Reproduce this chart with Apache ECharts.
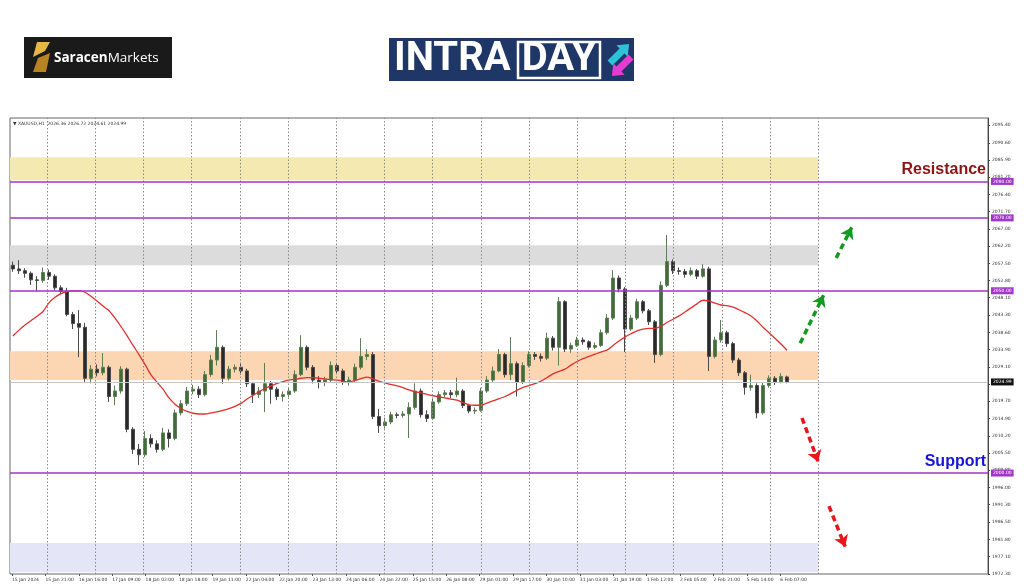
<!DOCTYPE html>
<html><head><meta charset="utf-8">
<script src="https://cdn.jsdelivr.net/npm/echarts@6/dist/echarts.min.js"></script>
<style>html,body{margin:0;padding:0;background:#fff}#c{width:1024px;height:587px}</style>
</head><body><div id="c"></div>
<script>
// ---------------- DATA ----------------
const symbolInfo = '\u25BC XAUUSD,H1  2026.36 2026.72 2024.61 2024.99';
const timeLabels = ["15 Jan 2024","15 Jan 21:00","16 Jan 16:00","17 Jan 09:00","18 Jan 02:00","18 Jan 18:00","19 Jan 11:00","22 Jan 04:00","22 Jan 20:00","23 Jan 13:00","24 Jan 06:00","24 Jan 22:00","25 Jan 15:00","26 Jan 08:00","29 Jan 01:00","29 Jan 17:00","30 Jan 10:00","31 Jan 03:00","31 Jan 19:00","1 Feb 12:00","2 Feb 05:00","2 Feb 21:00","5 Feb 14:00","6 Feb 07:00"];
const priceTicks = [2095.40,2090.60,2085.90,2081.20,2076.40,2071.70,2067.00,2062.20,2057.50,2052.80,2048.10,2043.30,2038.60,2033.90,2029.10,2024.40,2019.70,2014.90,2010.20,2005.50,2000.80,1996.00,1991.30,1986.50,1981.80,1977.10,1972.30];
// [open, close, low, high]
const candles = [
[2057.0,2056.0,2055.2,2058.0],[2056.0,2055.5,2054.6,2058.4],[2055.5,2054.8,2053.6,2056.2],[2054.8,2053.0,2051.6,2055.3],[2053.0,2052.8,2049.8,2054.0],
[2052.8,2055.0,2052.2,2056.4],[2055.0,2054.0,2053.0,2055.8],[2054.0,2050.8,2050.0,2054.5],[2050.8,2049.8,2049.0,2051.5],[2049.8,2043.5,2043.0,2050.8],
[2043.5,2041.0,2039.5,2044.2],[2041.0,2040.0,2031.8,2044.7],[2040.0,2026.0,2025.0,2041.2],[2026.0,2028.5,2024.6,2029.6],[2028.5,2027.5,2026.5,2029.8],
[2027.5,2029.0,2026.8,2032.9],[2029.0,2021.0,2019.5,2029.5],[2021.0,2022.5,2018.6,2024.0],[2022.5,2028.5,2021.8,2029.3],[2028.5,2012.0,2011.2,2028.9],
[2012.0,2006.5,2005.2,2012.6],[2006.5,2005.0,2002.2,2008.0],[2005.0,2009.5,2004.4,2011.5],[2009.5,2008.0,2007.0,2010.6],[2008.0,2006.5,2005.6,2009.0],
[2006.5,2011.0,2006.0,2012.4],[2011.0,2009.5,2007.0,2012.0],[2009.5,2016.5,2009.0,2017.4],[2016.5,2019.0,2015.8,2020.0],[2019.0,2022.5,2018.4,2023.6],
[2022.5,2023.0,2021.6,2024.2],[2023.0,2021.5,2020.6,2023.8],[2021.5,2027.0,2021.0,2028.0],[2027.0,2031.0,2026.4,2032.4],[2031.0,2034.5,2029.5,2039.2],
[2034.5,2026.0,2024.5,2035.0],[2026.0,2028.5,2025.4,2029.4],[2028.5,2029.0,2027.6,2029.8],[2029.0,2028.0,2027.0,2030.2],[2028.0,2024.5,2023.6,2028.6],
[2024.5,2021.5,2019.2,2025.0],[2021.5,2022.5,2020.6,2023.6],[2022.5,2024.5,2016.7,2030.2],[2024.5,2023.0,2019.0,2025.2],[2023.0,2021.0,2020.0,2023.6],
[2021.0,2021.5,2019.6,2022.4],[2021.5,2022.5,2020.8,2023.4],[2022.5,2027.0,2022.0,2028.2],[2027.0,2034.5,2026.6,2037.8],[2034.5,2029.0,2028.2,2035.0],
[2029.0,2025.5,2024.6,2029.6],[2025.5,2025.0,2023.2,2026.6],[2025.0,2025.5,2023.8,2026.4],[2025.5,2029.5,2025.0,2030.6],[2029.5,2028.0,2027.2,2030.2],
[2028.0,2025.0,2024.2,2028.6],[2025.0,2025.5,2024.0,2026.4],[2025.5,2029.0,2025.0,2030.0],[2029.0,2032.0,2028.4,2037.0],[2032.0,2032.5,2031.0,2034.0],
[2032.5,2015.5,2014.8,2033.2],[2015.5,2013.0,2011.0,2017.6],[2013.0,2014.0,2012.2,2015.2],[2014.0,2016.0,2013.4,2016.8],[2016.0,2015.8,2015.0,2016.6],
[2015.8,2016.2,2015.2,2017.0],[2016.2,2018.0,2009.6,2019.4],[2018.0,2022.5,2017.4,2024.6],[2022.5,2016.0,2015.2,2023.2],[2016.0,2015.0,2014.0,2017.2],
[2015.0,2019.5,2014.6,2020.6],[2019.5,2021.5,2019.0,2022.4],[2021.5,2022.0,2020.8,2022.8],[2022.0,2021.5,2020.6,2022.8],[2021.5,2022.5,2020.8,2026.2],
[2022.5,2018.5,2017.8,2023.0],[2018.5,2017.0,2016.4,2019.0],[2017.0,2017.2,2016.2,2018.0],[2017.2,2022.5,2016.8,2023.4],[2022.5,2025.5,2022.0,2026.6],
[2025.5,2028.0,2025.0,2029.2],[2028.0,2032.5,2027.6,2034.0],[2032.5,2027.0,2026.2,2033.0],[2027.0,2030.0,2025.5,2037.3],[2030.0,2025.0,2021.0,2030.6],
[2025.0,2029.5,2024.4,2030.4],[2029.5,2032.5,2029.0,2033.4],[2032.5,2032.0,2031.0,2033.2],[2032.0,2031.5,2030.6,2032.8],[2031.5,2037.0,2031.0,2038.5],
[2037.0,2034.5,2033.6,2037.6],[2034.5,2047.0,2029.5,2048.3],[2047.0,2034.0,2033.2,2047.4],[2034.0,2035.0,2033.0,2035.8],[2035.0,2036.5,2034.6,2037.4],
[2036.5,2036.0,2035.2,2037.2],[2036.0,2034.5,2033.8,2036.4],[2034.5,2035.0,2034.0,2035.8],[2035.0,2038.5,2034.6,2039.4],[2038.5,2042.5,2038.0,2043.6],
[2042.5,2053.5,2042.0,2055.7],[2053.5,2050.5,2049.6,2054.2],[2050.5,2039.5,2033.2,2051.0],[2039.5,2042.5,2039.0,2043.4],[2042.5,2047.0,2042.0,2047.8],
[2047.0,2044.5,2043.8,2047.4],[2044.5,2041.5,2040.6,2045.0],[2041.5,2032.5,2030.2,2042.0],[2032.5,2051.5,2032.0,2052.6],[2051.5,2058.0,2051.0,2065.3],
[2058.0,2055.5,2054.6,2058.6],[2055.5,2055.3,2054.4,2056.4],[2055.3,2054.5,2053.6,2056.0],[2054.5,2055.5,2054.0,2056.4],[2055.5,2054.0,2053.2,2056.0],
[2054.0,2056.0,2053.6,2057.3],[2056.0,2032.0,2028.0,2056.6],[2032.0,2036.5,2031.4,2037.4],[2036.5,2038.5,2035.8,2042.0],[2038.5,2035.5,2034.6,2039.0],
[2035.5,2031.0,2030.2,2036.0],[2031.0,2027.5,2026.6,2031.6],[2027.5,2023.5,2021.5,2028.0],[2023.5,2024.0,2022.6,2027.0],[2024.0,2016.5,2015.0,2024.6],
[2016.5,2024.0,2016.0,2024.8],[2024.0,2026.0,2023.4,2026.8],[2026.0,2025.0,2024.2,2026.6],[2025.0,2026.5,2024.6,2027.4],[2026.36,2024.99,2024.61,2026.72]
];
const maValues = [
2037.6,2039.2,2040.6,2041.8,2043.0,2044.3,2046.7,2048.2,2049.2,2049.8,
2050.0,2050.0,2049.6,2048.5,2047.2,2045.8,2044.5,2042.5,2040.2,2037.7,
2035.0,2032.5,2029.8,2026.9,2024.9,2023.0,2020.6,2018.9,2017.7,2016.9,
2016.4,2016.2,2016.2,2016.5,2016.8,2017.2,2017.7,2018.3,2019.1,2020.3,
2021.3,2022.3,2023.2,2023.9,2024.6,2025.1,2025.5,2025.7,2026.0,2026.2,
2026.2,2026.0,2025.8,2025.6,2025.5,2025.2,2025.0,2025.4,2025.9,2026.3,
2025.8,2025.2,2024.7,2024.3,2023.9,2023.4,2022.8,2022.3,2022.0,2021.6,
2021.2,2020.9,2020.6,2020.3,2020.0,2019.3,2018.7,2018.6,2018.6,2019.2,
2019.8,2020.4,2021.0,2021.8,2022.7,2023.5,2024.0,2024.5,2025.2,2026.2,
2027.2,2027.9,2028.5,2029.6,2030.6,2031.4,2032.0,2032.6,2033.2,2033.7,
2035.0,2036.2,2037.3,2038.2,2039.0,2039.5,2039.7,2039.7,2040.3,2041.3,
2042.2,2043.1,2044.2,2045.3,2046.4,2047.4,2047.2,2046.6,2046.1,2045.9,
2045.5,2044.8,2044.0,2043.1,2041.7,2040.0,2038.5,2037.0,2035.4,2033.7
];
const levelLines = [2080.00, 2070.00, 2050.00, 2000.00];
const lastPrice = 2024.99;
const zoneTops = [2086.6, 2062.5, 2033.4, 1980.8];
const zoneBottoms = [2080.3, 2057.0, 2025.5, 1972.8];
// projected moves: [start(index, price), end(index, price)]
const upArrows = [[[137.2, 2059.0], [139.8, 2067.4]], [[131.2, 2035.6], [135.1, 2048.8]]];
const downArrows = [[[131.5, 2015.1], [134.2, 2003.1]], [[136.0, 1990.9], [138.7, 1979.8]]];
const resistanceText = 'Resistance';
const supportText = 'Support';

// ---------------- LAYOUT / STYLE ----------------
const SLOTS = 163;
const LABEL_START = -0.167, LABEL_STEP = 5.567;
const VGRID_START = 5.667, VGRID_STEP = 8.033, VGRID_COUNT = 17;
const zoneColors = ['#f5e9b2', '#dcdcdc', '#fcd5b3', '#e5e5f8'];
const purple = '#a335c9';
const tiny = 4.5;

const cats = Array.from({length: SLOTS}, (_, i) => String(i));
const labelVals = timeLabels.map((_, k) => +(LABEL_START + k * LABEL_STEP).toFixed(3));
const vgridVals = Array.from({length: VGRID_COUNT}, (_, j) => VGRID_START + j * VGRID_STEP);
const zoneEnd = vgridVals[VGRID_COUNT - 1];

const chart = echarts.init(document.getElementById('c'), null, {renderer: 'canvas'});

function arrowItems(list, color) {
  return list.map(([a, b]) => [
    {coord: a, symbol: 'none', lineStyle: {color: color, width: 3.5, type: [6, 4]}},
    {coord: b, symbol: 'arrow', symbolSize: 11, itemStyle: {color: color}}
  ]);
}

const option = {
  animation: false,
  backgroundColor: '#ffffff',
  grid: {left: 10, right: 36, top: 118, bottom: 13, show: true, borderColor: '#666', borderWidth: 1, containLabel: false},
  xAxis: [
    {type: 'category', data: cats, boundaryGap: true, show: false},
    {type: 'value', min: -0.5, max: SLOTS - 0.5, position: 'bottom',
     axisLine: {show: false, onZero: false}, splitLine: {show: false},
     axisTick: {show: true, length: 2, customValues: labelVals, lineStyle: {color: '#555'}},
     axisLabel: {customValues: labelVals, align: 'left', fontSize: tiny, color: '#333', margin: 3,
       fontFamily: 'DejaVu Sans',
       formatter: v => timeLabels[Math.round((v - LABEL_START) / LABEL_STEP)] || ''}}
  ],
  yAxis: {type: 'value', position: 'right', min: 1972.3, max: 2097.4,
    splitLine: {show: false},
    axisLine: {show: true, onZero: false, lineStyle: {color: '#444'}},
    axisTick: {show: true, length: 2, customValues: priceTicks, lineStyle: {color: '#444'}},
    axisLabel: {customValues: priceTicks, fontSize: tiny, color: '#333', margin: 4, fontFamily: 'DejaVu Sans',
      formatter: v => v.toFixed(2)}},
  series: [
    {type: 'line', xAxisIndex: 1, yAxisIndex: 0, data: [], z: 1, silent: true,
     markArea: {silent: true, data: zoneTops.map((t, i) => [
       {xAxis: -0.5, yAxis: t, itemStyle: {color: zoneColors[i]}},
       {xAxis: zoneEnd, yAxis: zoneBottoms[i]}])}},
    {type: 'line', xAxisIndex: 1, yAxisIndex: 0, data: [], z: 2, silent: true,
     markLine: {silent: true, symbol: 'none', animation: false,
       data: vgridVals.map(v => ({xAxis: v, lineStyle: {color: '#8a8a8a', width: 1, type: [1.5, 2]}, label: {show: false}}))
         .concat([{yAxis: lastPrice, lineStyle: {color: '#c4c4c4', width: 1, type: 'solid'},
           label: {show: true, position: 'end', formatter: p => p.value.toFixed(2), color: '#fff', backgroundColor: '#111',
             fontSize: tiny, padding: [1, 2, 1, 2], distance: 3, fontFamily: 'DejaVu Sans'}}])}},
    {type: 'candlestick', xAxisIndex: 0, yAxisIndex: 0, data: candles, z: 3, barWidth: 3,
     itemStyle: {color: '#3f6e36', color0: '#2a2a2a', borderColor: '#5f7d56', borderColor0: '#4a4a4a', borderWidth: 1}},
    {type: 'line', xAxisIndex: 1, yAxisIndex: 0, data: maValues.map((v, i) => [i, v]), z: 4,
     showSymbol: false, smooth: 0.3, lineStyle: {color: '#e0302d', width: 1.3}},
    {type: 'line', xAxisIndex: 1, yAxisIndex: 0, data: [], z: 5, silent: true,
     markLine: {silent: true, symbol: 'none', animation: false,
       data: levelLines.map(v => ({yAxis: v, lineStyle: {color: purple, width: 1.6, type: 'solid'},
         label: {show: true, position: 'end', formatter: p => p.value.toFixed(2), color: '#fff', backgroundColor: purple,
           fontSize: tiny, padding: [1, 2, 1, 2], distance: 3, fontFamily: 'DejaVu Sans'}}))}},
    {type: 'line', xAxisIndex: 1, yAxisIndex: 0, data: [], z: 6, silent: true,
     markLine: {silent: true, animation: false, label: {show: false},
       data: arrowItems(upArrows, '#159a1f').concat(arrowItems(downArrows, '#e8161b'))}}
  ],
  graphic: [
    {type: 'rect', shape: {x: 24, y: 37, width: 148, height: 41}, style: {fill: '#1a1a1a'}},
    {type: 'polygon', shape: {points: [[37, 42], [50, 42], [45, 51], [33, 57]]}, style: {fill: '#e8b547'}},
    {type: 'polygon', shape: {points: [[38, 58], [50, 53], [46, 72], [33, 72]]}, style: {fill: '#b98322'}},
    {type: 'text', x: 54, y: 58, style: {text: '{b|Saracen}{n|Markets}', verticalAlign: 'middle',
      rich: {b: {fontWeight: 'bold', fontSize: 13.5, fill: '#fff', fontFamily: 'Open Sans'},
             n: {fontSize: 13.5, fill: '#fff', fontFamily: 'Open Sans'}}}},
    {type: 'rect', shape: {x: 389, y: 38, width: 245, height: 43}, style: {fill: '#1e3766'}},
    {type: 'text', x: 394, y: 60, style: {text: 'INTRA', fill: '#fff', font: 'bold 40px Roboto', verticalAlign: 'middle'}},
    {type: 'rect', shape: {x: 518, y: 42, width: 82, height: 36}, style: {fill: 'none', stroke: '#fff', lineWidth: 2.5}},
    {type: 'text', x: 559, y: 60, style: {text: 'DAY', fill: '#fff', font: 'bold 40px Roboto', align: 'center', verticalAlign: 'middle'}},
    {type: 'group', x: 610, y: 63, rotation: Math.PI / 4, children: [
      {type: 'polygon', shape: {points: [[0, -3.5], [17, -3.5], [17, -8], [27, 0], [17, 8], [17, 3.5], [0, 3.5]]}, style: {fill: '#2cc3d8'}}]},
    {type: 'group', x: 631, y: 57, rotation: Math.PI * 5 / 4, children: [
      {type: 'polygon', shape: {points: [[0, -3.5], [17, -3.5], [17, -8], [27, 0], [17, 8], [17, 3.5], [0, 3.5]]}, style: {fill: '#e43bd0'}}]},
    {type: 'text', x: 13, y: 124, z: 10, style: {text: symbolInfo, fill: '#333', font: tiny + 'px "DejaVu Sans"', verticalAlign: 'middle'}},
    {type: 'text', x: 986, y: 170, z: 10, style: {text: resistanceText, fill: '#8b1515', font: 'bold 16px "Liberation Sans"', align: 'right', verticalAlign: 'middle'}},
    {type: 'text', x: 986, y: 462, z: 10, style: {text: supportText, fill: '#1515d6', font: 'bold 16px "Liberation Sans"', align: 'right', verticalAlign: 'middle'}}
  ]
};
chart.setOption(option);
</script>
</body></html>
